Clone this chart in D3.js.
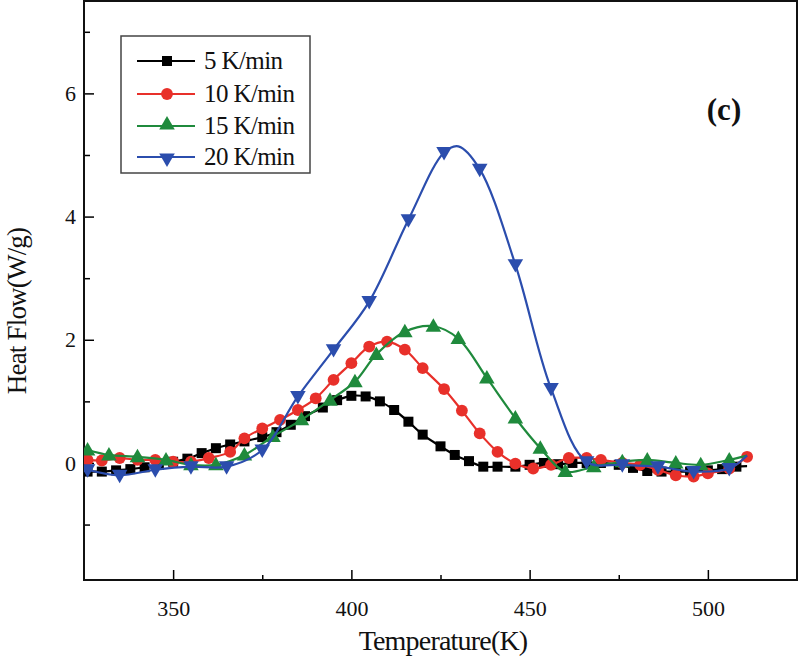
<!DOCTYPE html>
<html>
<head>
<meta charset="utf-8">
<script src="https://cdn.jsdelivr.net/npm/d3@7"></script>
<style>
  html, body { margin: 0; padding: 0; background: #fff; }
  svg { display: block; }
  svg text { font-family: "Liberation Serif", "Times New Roman", "DejaVu Serif", serif !important; }
</style>
</head>
<body>
<svg id="chart" width="800" height="659"></svg>
<script>
// ---- data ----
const seriesNames = ["5 K/min", "10 K/min", "15 K/min", "20 K/min"];

const black5X = [326,330,334,338,342,346,350,354,358,362,366,370,375,379,383,387,392,396,400,404,408,412,416,420,425,429,433,437,441,446,450,454,458,462,466,470,475,479,483,487,491,495,500,504,508];
const black5Y = [-0.14,-0.14,-0.12,-0.10,-0.07,-0.03,0.02,0.07,0.16,0.24,0.30,0.35,0.42,0.50,0.62,0.76,0.90,1.02,1.09,1.08,1.00,0.86,0.67,0.46,0.27,0.13,0.03,-0.06,-0.06,-0.06,-0.03,0.00,-0.02,0.00,0.00,0.00,-0.03,-0.08,-0.13,-0.14,-0.14,-0.14,-0.12,-0.10,-0.06];
const black5Extra = [[511,-0.05]];

const red10X = [326,330,335,340,345,350,355,360,366,370,375,380,385,390,395,400,405,410,415,420,426,431,436,441,446,451,456,461,466,470,476,481,486,491,496,500,506,511];
const red10Y = [0.05,0.04,0.08,0.05,0.05,0.02,0.02,0.08,0.18,0.40,0.56,0.70,0.86,1.05,1.35,1.62,1.89,1.97,1.84,1.54,1.20,0.85,0.48,0.18,-0.01,-0.09,-0.03,0.08,0.08,0.05,0.00,-0.03,-0.11,-0.20,-0.22,-0.17,-0.09,0.10];
const red10Extra = [];

const green15X = [326,332,340,348,355,362,370,378,386,394,401,407,415,423,430,438,446,453,460,468,476,483,491,498,506];
const green15Y = [0.21,0.13,0.10,0.05,-0.03,-0.03,0.13,0.43,0.70,1.02,1.32,1.76,2.13,2.22,2.02,1.38,0.73,0.24,-0.14,-0.06,0.02,0.05,0.00,-0.03,0.05];
const green15Extra = [[511,0.12]];

const blue20X = [326,335,345,355,365,375,385,395,405,416,426,436,446,456,466,476,486,496,506];
const blue20Y = [-0.11,-0.20,-0.11,-0.06,-0.06,0.21,1.08,1.84,2.62,3.95,5.04,4.77,3.22,1.21,0.02,-0.03,-0.06,-0.14,-0.09];
const blue20Extra = [[430,5.14],[511,0.12]];

const xTicks = [350, 400, 450, 500];
const xMinorTicks = [375, 425, 475];
const yTicks = [0, 2, 4, 6];
const yMinorTicks = [-1, 1, 3, 5, 7];

// ---- layout ----
const FONT = '"Liberation Serif", "Times New Roman", serif';
const svg = d3.select("#chart");
const L = 84, R = 797, T = 1, B = 580;
const x = d3.scaleLinear().domain([325, 525]).range([L, R]);
const y = d3.scaleLinear().domain([-1.9, 7.5]).range([B, T]);

const colors = ["#000000", "#e8302a", "#1f8a3c", "#2b4dad"];
const symbols = [d3.symbolSquare, d3.symbolCircle, d3.symbolTriangle, d3.symbolTriangle];
const symSizes = [100, 110, 105, 105];
const rotations = [0, 0, 0, 180];

const series = [
  {X: black5X, Y: black5Y, extra: black5Extra},
  {X: red10X, Y: red10Y, extra: red10Extra},
  {X: green15X, Y: green15Y, extra: green15Extra},
  {X: blue20X, Y: blue20Y, extra: blue20Extra}
];

svg.append("clipPath").attr("id", "clip").append("rect")
  .attr("x", L).attr("y", T).attr("width", R - L).attr("height", B - T);

// axes (ticks inward)
const xAxis = d3.axisBottom(x).tickValues(xTicks).tickSize(-10).tickPadding(20).tickFormat(d3.format("d"));
const gx = svg.append("g").attr("transform", `translate(0,${B})`).call(xAxis);
gx.attr("font-family", FONT);
gx.select(".domain").remove();
gx.selectAll("text").attr("font-size", 22).attr("fill", "#111");
gx.selectAll("line").attr("stroke", "#000").attr("stroke-width", 1.5);
const gxm = svg.append("g").attr("transform", `translate(0,${B})`)
  .call(d3.axisBottom(x).tickValues(xMinorTicks).tickSize(-5).tickFormat(""));
gxm.select(".domain").remove();
gxm.selectAll("line").attr("stroke", "#000").attr("stroke-width", 1.5);

const yAxis = d3.axisLeft(y).tickValues(yTicks).tickSize(-10).tickPadding(8).tickFormat(d3.format("d"));
const gy = svg.append("g").attr("transform", `translate(${L},0)`).call(yAxis);
gy.attr("font-family", FONT);
gy.select(".domain").remove();
gy.selectAll("text").attr("font-size", 22).attr("fill", "#111");
gy.selectAll("line").attr("stroke", "#000").attr("stroke-width", 1.5);
const gym = svg.append("g").attr("transform", `translate(${L},0)`)
  .call(d3.axisLeft(y).tickValues(yMinorTicks).tickSize(-6).tickFormat(""));
gym.select(".domain").remove();
gym.selectAll("line").attr("stroke", "#000").attr("stroke-width", 1.5);

// frame
svg.append("rect").attr("x", L).attr("y", T).attr("width", R - L).attr("height", B - T)
  .attr("fill", "none").attr("stroke", "#111").attr("stroke-width", 2);

// series
const plot = svg.append("g").attr("clip-path", "url(#clip)");
const line = d3.line().x(d => x(d[0])).y(d => y(d[1])).curve(d3.curveCatmullRom.alpha(0.5));

series.forEach((s, i) => {
  const pts = s.X.map((v, k) => [v, s.Y[k]]);
  const linePts = pts.concat(s.extra).sort((a, b) => a[0] - b[0]);
  plot.append("path").datum(linePts).attr("d", line)
    .attr("fill", "none").attr("stroke", colors[i]).attr("stroke-width", 2.2);
  plot.append("g").selectAll("path").data(pts).join("path")
    .attr("d", d3.symbol().type(symbols[i]).size(symSizes[i]))
    .attr("transform", d => `translate(${x(d[0])},${y(d[1]) + (i === 2 ? 1 : (i === 3 ? -1 : 0))}) rotate(${rotations[i]})`)
    .attr("fill", colors[i]);
});

// legend
const lg = svg.append("g").attr("font-family", FONT);
lg.append("rect").attr("x", 121).attr("y", 36).attr("width", 189).attr("height", 137)
  .attr("fill", "#fff").attr("stroke", "#444").attr("stroke-width", 1.5);
const rowsY = [61, 94, 126, 157];
seriesNames.forEach((name, i) => {
  lg.append("line").attr("x1", 137).attr("x2", 195).attr("y1", rowsY[i]).attr("y2", rowsY[i])
    .attr("stroke", colors[i]).attr("stroke-width", 2.2);
  lg.append("path").attr("d", d3.symbol().type(symbols[i]).size(symSizes[i])())
    .attr("transform", `translate(167,${rowsY[i] + (i === 2 ? -1 : (i === 3 ? 1 : 0))}) rotate(${rotations[i]})`)
    .attr("fill", colors[i]);
  lg.append("text").attr("x", 204).attr("y", rowsY[i] + 8)
    .attr("font-size", 25).attr("letter-spacing", -0.6).attr("fill", "#111").text(name);
});

// panel label
svg.append("text").attr("x", 724).attr("y", 120).attr("text-anchor", "middle")
  .attr("font-family", FONT)
  .attr("font-size", 31).attr("font-weight", "bold").attr("fill", "#111").text("(c)");

// axis titles
svg.append("text").attr("x", 443).attr("y", 650).attr("text-anchor", "middle")
  .attr("font-family", FONT)
  .attr("font-size", 28).attr("letter-spacing", -0.8).attr("fill", "#111").text("Temperature(K)");
svg.append("text").attr("transform", "translate(26,311) rotate(-90)").attr("text-anchor", "middle")
  .attr("font-family", FONT)
  .attr("font-size", 27).attr("letter-spacing", -0.8).attr("fill", "#111").text("Heat Flow(W/g)");
</script>
</body>
</html>
